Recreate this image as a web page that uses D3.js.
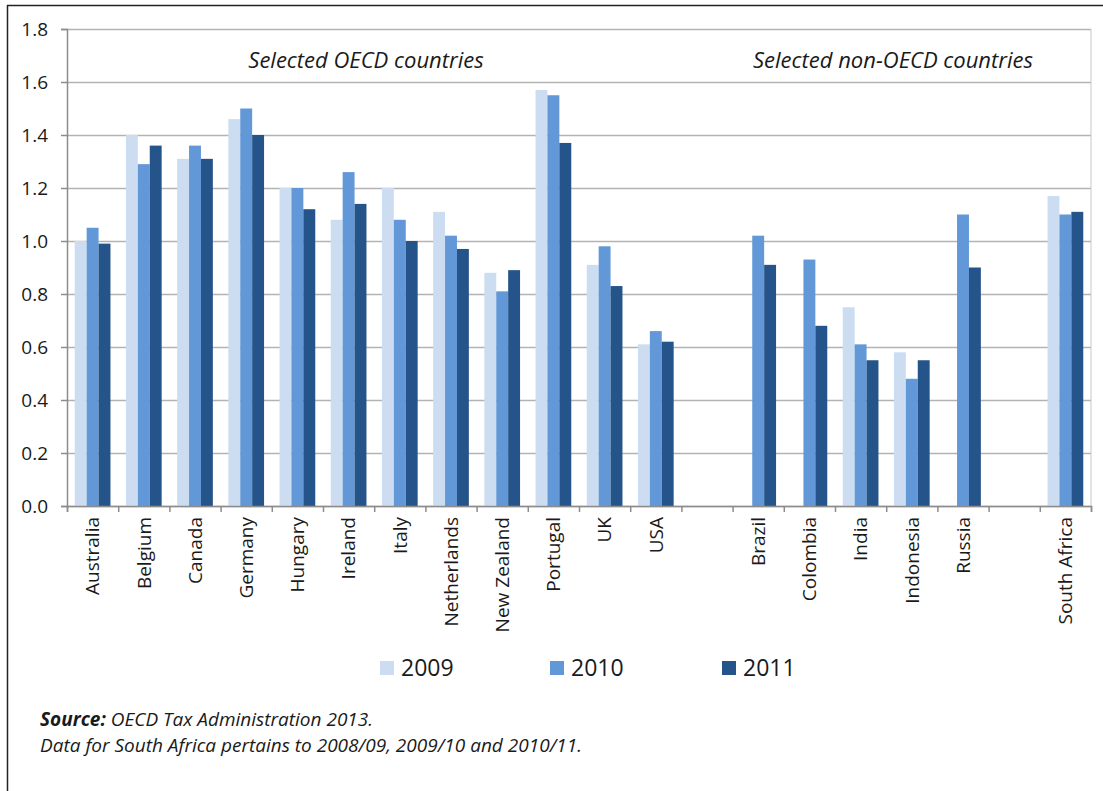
<!DOCTYPE html>
<html>
<head>
<meta charset="utf-8">
<script src="https://cdn.jsdelivr.net/npm/d3@7"></script>
<style>
  body { margin: 0; background: #fff; }
  svg { font-family: "Open Sans", sans-serif; }
</style>
</head>
<body>
<svg id="chart" width="1103" height="791"></svg>
<script>
// categories, blanks are the gaps between the two country groups
var categories = ['Australia', 'Belgium', 'Canada', 'Germany', 'Hungary', 'Ireland', 'Italy',
    'Netherlands', 'New Zealand', 'Portugal', 'UK', 'USA', '', 'Brazil', 'Colombia', 'India',
    'Indonesia', 'Russia', '', 'South Africa'];
var years = ['2009', '2010', '2011'];

// one value per category, null = no bar
var values2009 = [1.00, 1.40, 1.31, 1.46, 1.20, 1.08, 1.20, 1.11, 0.88, 1.57, 0.91, 0.61,
    null, null, null, 0.75, 0.58, null, null, 1.17];
var values2010 = [1.05, 1.29, 1.36, 1.50, 1.20, 1.26, 1.08, 1.02, 0.81, 1.55, 0.98, 0.66,
    null, 1.02, 0.93, 0.61, 0.48, 1.10, null, 1.10];
var values2011 = [0.99, 1.36, 1.31, 1.40, 1.12, 1.14, 1.00, 0.97, 0.89, 1.37, 0.83, 0.62,
    null, 0.91, 0.68, 0.55, 0.55, 0.90, null, 1.11];

var yTicks = [0, 0.2, 0.4, 0.6, 0.8, 1.0, 1.2, 1.4, 1.6, 1.8];
var groupNotes = ['Selected OECD countries', 'Selected non-OECD countries'];

var series = [values2009, values2010, values2011];
var colors = ['#ccddf2', '#6298d8', '#25548a'];

var svg = d3.select('#chart');
var padding = {t: 29, l: 67, r: 1091, b: 506};

// outer frame (only top and left edges visible)
svg.append('line').attr('x1', 7).attr('x2', 1103).attr('y1', 5.5).attr('y2', 5.5)
    .attr('stroke', '#222').attr('stroke-width', 1.5);
svg.append('line').attr('x1', 7.5).attr('x2', 7.5).attr('y1', 5).attr('y2', 791)
    .attr('stroke', '#222').attr('stroke-width', 1.5);

var x = d3.scaleBand()
    .domain(d3.range(categories.length))
    .range([padding.l, padding.r]);

var x1 = d3.scaleBand()
    .domain(d3.range(years.length))
    .range([0, x.bandwidth()])
    .paddingOuter(0.65);

var y = d3.scaleLinear()
    .domain([0, 1.8])
    .range([padding.b, padding.t]);

// gridlines
svg.append('g')
    .attr('transform', 'translate(' + padding.l + ',0)')
    .call(d3.axisLeft(y).tickValues(yTicks).tickSize(-(padding.r - padding.l)).tickFormat(''))
    .call(function(g) {
        g.select('.domain').remove();
        g.selectAll('line').attr('stroke', '#b3b3b3').attr('stroke-width', 1.5);
    });

// right border of plot area
svg.append('line')
    .attr('x1', padding.r).attr('x2', padding.r)
    .attr('y1', padding.t).attr('y2', padding.b)
    .attr('stroke', '#c8c8c8');

// flatten into bar records, skipping missing values
var bars = [];
series.forEach(function(vals, s) {
    vals.forEach(function(v, i) {
        if (v !== null) bars.push({cat: i, s: s, value: v});
    });
});

svg.append('g')
    .selectAll('rect')
    .data(bars)
    .enter()
    .append('rect')
    .attr('x', function(d) { return x(d.cat) + x1(d.s); })
    .attr('y', function(d) { return y(d.value); })
    .attr('width', x1.bandwidth())
    .attr('height', function(d) { return y(0) - y(d.value); })
    .attr('fill', function(d) { return colors[d.s]; });

// y axis
svg.append('g')
    .attr('transform', 'translate(' + padding.l + ',0)')
    .call(d3.axisLeft(y).tickValues(yTicks).tickSize(6).tickPadding(13).tickFormat(d3.format('.1f')))
    .call(function(g) {
        g.select('.domain').attr('stroke', '#8c8c8c').attr('stroke-width', 1.5);
        g.selectAll('line').attr('stroke', '#8c8c8c').attr('stroke-width', 1.5);
        g.selectAll('text').attr('font-size', 19).attr('fill', '#1a1a1a')
            .attr('font-family', '"Open Sans", sans-serif');
    });

// x axis boundary ticks
var xb = d3.scaleLinear().domain([0, categories.length]).range([padding.l, padding.r]);
svg.append('g')
    .attr('transform', 'translate(0,' + padding.b + ')')
    .call(d3.axisBottom(xb).tickValues(d3.range(categories.length + 1)).tickSize(6).tickFormat(''))
    .call(function(g) {
        g.select('.domain').attr('stroke', '#8c8c8c').attr('stroke-width', 1.5);
        g.selectAll('line').attr('stroke', '#8c8c8c').attr('stroke-width', 1.5);
    });

// category labels
svg.append('g')
    .attr('transform', 'translate(0,' + padding.b + ')')
    .call(d3.axisBottom(x).tickSize(0).tickFormat(function(i) { return categories[i]; }))
    .call(function(g) {
        g.select('.domain').remove();
        g.selectAll('text')
            .attr('transform', 'rotate(-90)')
            .attr('x', -11)
            .attr('y', 0)
            .attr('dy', '0.36em')
            .attr('text-anchor', 'end')
            .attr('font-size', 19)
            .attr('fill', '#1a1a1a')
            .attr('font-family', '"Open Sans", sans-serif');
    });

// group annotations
var noteX = [366, 893];
svg.selectAll('text.note')
    .data(groupNotes)
    .enter()
    .append('text')
    .attr('class', 'note')
    .attr('x', function(d, i) { return noteX[i]; })
    .attr('y', 68)
    .attr('text-anchor', 'middle')
    .attr('font-size', 22)
    .attr('font-style', 'italic')
    .attr('fill', '#1a1a1a')
    .text(function(d) { return d; });

// legend
var legendX = [380, 550, 722];
var legend = svg.selectAll('g.legend')
    .data(years)
    .enter()
    .append('g')
    .attr('class', 'legend')
    .attr('transform', function(d, i) { return 'translate(' + legendX[i] + ',661)'; });
legend.append('rect')
    .attr('width', 14).attr('height', 14)
    .attr('fill', function(d, i) { return colors[i]; });
legend.append('text')
    .attr('x', 21).attr('y', 15)
    .attr('font-size', 23)
    .attr('fill', '#1a1a1a')
    .text(function(d) { return d; });

// source note
var src = svg.append('text').attr('x', 40).attr('y', 726)
    .attr('font-size', 19).attr('font-style', 'italic').attr('fill', '#1a1a1a');
src.append('tspan').attr('font-weight', 'bold').text('Source:');
src.append('tspan').text(' OECD Tax Administration 2013.');
svg.append('text').attr('x', 40).attr('y', 752)
    .attr('font-size', 19).attr('font-style', 'italic').attr('fill', '#1a1a1a')
    .text('Data for South Africa pertains to 2008/09, 2009/10 and 2010/11.');
</script>
</body>
</html>
